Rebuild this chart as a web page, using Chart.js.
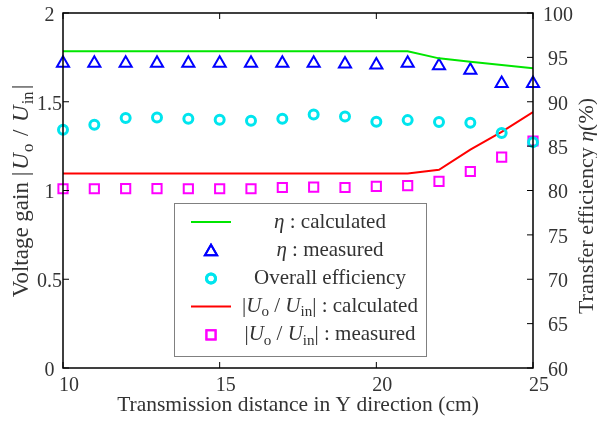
<!DOCTYPE html>
<html>
<head>
<meta charset="utf-8">
<script src="https://cdn.jsdelivr.net/npm/chart.js@4/dist/chart.umd.min.js"></script>
<style>
  html, body { margin: 0; padding: 0; background: #fff; }
  #wrap { width: 597px; height: 422px; position: relative; }
</style>
</head>
<body>
<div id="wrap"><canvas id="chart"></canvas></div>
<script>
// distance in Y direction (cm)
const distance = [10, 11, 12, 13, 14, 15, 16, 17, 18, 19, 20, 21, 22, 23, 24, 25];
// transfer efficiency (%), right axis
const etaCalculated = [95.68, 95.68, 95.68, 95.68, 95.68, 95.68, 95.68, 95.68, 95.68, 95.68, 95.68, 95.68, 94.89, 94.5, 94.14, 93.76];
const etaMeasured = [94.35, 94.35, 94.35, 94.35, 94.35, 94.35, 94.35, 94.35, 94.35, 94.25, 94.15, 94.35, 94.05, 93.55, 92.05, 92.05];
const overallEfficiency = [86.84, 87.4, 88.16, 88.23, 88.08, 87.97, 87.86, 88.08, 88.57, 88.34, 87.74, 87.93, 87.71, 87.63, 86.47, 85.45];
// voltage gain |Uo/Uin|, left axis
const gainCalculated = [1.096, 1.096, 1.096, 1.096, 1.096, 1.096, 1.096, 1.096, 1.096, 1.096, 1.096, 1.096, 1.117, 1.23, 1.33, 1.442];
const gainMeasured = [1.01, 1.01, 1.011, 1.011, 1.01, 1.01, 1.01, 1.017, 1.019, 1.017, 1.023, 1.028, 1.051, 1.107, 1.188, 1.279];

const xTicks = [10, 15, 20, 25];
const leftTicks = [0, 0.5, 1, 1.5, 2];
const rightTicks = [60, 65, 70, 75, 80, 85, 90, 95, 100];

const FONT = 'Liberation Serif';
const TEXT = '#333333';

const pts = (ys) => distance.map((x, i) => ({ x: x, y: ys[i] }));

// small rich-text helper: italic and subscript pieces
const drawRich = (ctx, parts, x, y, size, align) => {
  const fontOf = (p) => (p.it ? 'italic ' : '') + (p.sub ? size * 0.72 : size).toFixed(1) + 'px "' + FONT + '"';
  let total = 0;
  parts.forEach(p => { ctx.font = fontOf(p); total += ctx.measureText(p.t).width + (p.gap || 0); });
  let cx = align === 'center' ? x - total / 2 : x;
  ctx.textBaseline = 'middle';
  ctx.textAlign = 'left';
  parts.forEach(p => {
    ctx.font = fontOf(p);
    ctx.fillText(p.t, cx, p.sub ? y + size * 0.28 : y);
    cx += ctx.measureText(p.t).width + (p.gap || 0);
  });
};

const gainText = (tail, gap) => [
  { t: '|', gap: gap }, { t: 'U', it: true, gap: gap / 2 }, { t: 'o', sub: true, gap: gap }, { t: ' / ', gap: gap },
  { t: 'U', it: true, gap: gap / 2 }, { t: 'in', sub: true, gap: gap }, { t: '|' + tail }
];

const legendRows = [
  { parts: [{ t: 'η', it: true }, { t: ' : calculated' }], line: '#00e600' },
  { parts: [{ t: 'η', it: true }, { t: ' : measured' }], marker: 'triangle', color: '#0000ff', r: 7 },
  { parts: [{ t: 'Overall efficiency' }], marker: 'circle', color: '#00e5ee', r: 4.5 },
  { parts: gainText(' : calculated', 0), line: '#ff0000' },
  { parts: gainText(' : measured', 0), marker: 'rect', color: '#ff00ff', r: 6.5 }
];

const framePlugin = {
  id: 'frame',
  afterDatasetsDraw(chart) {
    const ctx = chart.ctx;
    const a = chart.chartArea;
    const sx = chart.scales.x, sl = chart.scales.yL, sr = chart.scales.yR;
    ctx.save();
    ctx.strokeStyle = '#000';
    ctx.lineWidth = 1.5;
    ctx.strokeRect(a.left, a.top, a.right - a.left, a.bottom - a.top);
    ctx.lineWidth = 1;
    ctx.beginPath();
    const t = 6;
    xTicks.forEach(v => {
      const px = sx.getPixelForValue(v);
      ctx.moveTo(px, a.bottom); ctx.lineTo(px, a.bottom - t);
      ctx.moveTo(px, a.top); ctx.lineTo(px, a.top + t);
    });
    leftTicks.forEach(v => {
      const py = sl.getPixelForValue(v);
      ctx.moveTo(a.left, py); ctx.lineTo(a.left + t, py);
    });
    rightTicks.forEach(v => {
      const py = sr.getPixelForValue(v);
      ctx.moveTo(a.right, py); ctx.lineTo(a.right - t, py);
    });
    ctx.stroke();

    // legend box
    const bx = 174, by = 203, bw = 252, bh = 153;
    ctx.fillStyle = '#fff';
    ctx.fillRect(bx, by, bw, bh);
    ctx.strokeStyle = '#808080';
    ctx.lineWidth = 1;
    ctx.strokeRect(bx + 0.5, by + 0.5, bw, bh);
    legendRows.forEach((row, i) => {
      const y = 222 + i * 28.2;
      if (row.line) {
        ctx.strokeStyle = row.line;
        ctx.lineWidth = 2;
        ctx.beginPath();
        ctx.moveTo(191, y); ctx.lineTo(231, y);
        ctx.stroke();
      } else {
        ctx.strokeStyle = row.color;
        ctx.fillStyle = 'rgba(0,0,0,0)';
        ctx.lineWidth = row.marker === 'circle' ? 3 : 2;
        Chart.helpers.drawPoint(ctx, { pointStyle: row.marker, radius: row.r, rotation: 0, borderWidth: ctx.lineWidth }, 211, row.marker === 'triangle' ? y + 1.5 : y);
        ctx.stroke();
      }
      ctx.fillStyle = TEXT;
      drawRich(ctx, row.parts, 330, y, 21, 'center');
    });

    // axis titles with italic / subscript pieces
    ctx.fillStyle = TEXT;
    ctx.save();
    ctx.translate(22, 191);
    ctx.rotate(-Math.PI / 2);
    drawRich(ctx, [{ t: 'Voltage gain ' }].concat(gainText('', 2)), 0, 0, 23, 'center');
    ctx.restore();
    ctx.save();
    ctx.translate(587, 206);
    ctx.rotate(-Math.PI / 2);
    drawRich(ctx, [{ t: 'Transfer efficiency ' }, { t: 'η', it: true }, { t: '(%)' }], 0, 0, 22, 'center');
    ctx.restore();
    ctx.restore();
  }
};

(() => {
  const ctx = document.getElementById('chart').getContext('2d');
  new Chart(ctx, {
    type: 'scatter',
    data: {
      datasets: [{
        label: 'η : calculated',
        type: 'line',
        data: pts(etaCalculated),
        yAxisID: 'yR',
        borderColor: '#00e600',
        borderWidth: 2,
        pointRadius: 0,
        fill: false,
        tension: 0
      }, {
        label: 'η : measured',
        data: pts(etaMeasured),
        yAxisID: 'yR',
        pointStyle: 'triangle',
        pointRadius: 7,
        pointBorderWidth: 2,
        pointBorderColor: '#0000ff',
        pointBackgroundColor: 'rgba(0,0,0,0)',
        clip: false
      }, {
        label: 'Overall efficiency',
        data: pts(overallEfficiency),
        yAxisID: 'yR',
        pointStyle: 'circle',
        pointRadius: 4.5,
        pointBorderWidth: 3,
        pointBorderColor: '#00e5ee',
        pointBackgroundColor: 'rgba(0,0,0,0)',
        clip: false
      }, {
        label: '|Uo / Uin| : calculated',
        type: 'line',
        data: pts(gainCalculated),
        yAxisID: 'yL',
        borderColor: '#ff0000',
        borderWidth: 2,
        pointRadius: 0,
        fill: false,
        tension: 0
      }, {
        label: '|Uo / Uin| : measured',
        data: pts(gainMeasured),
        yAxisID: 'yL',
        pointStyle: 'rect',
        pointRadius: 6.5,
        pointBorderWidth: 2,
        pointBorderColor: '#ff00ff',
        pointBackgroundColor: 'rgba(0,0,0,0)',
        clip: false
      }]
    },
    options: {
      responsive: true,
      maintainAspectRatio: false,
      animation: false,
      layout: { padding: { top: 13, left: 0, right: 0, bottom: 0 } },
      plugins: { legend: { display: false }, tooltip: { enabled: false } },
      scales: {
        x: {
          type: 'linear',
          min: 10, max: 25,
          afterBuildTicks: (s) => { s.ticks = xTicks.map(v => ({ value: v })); },
          afterFit: (s) => { s.height = 54; s.paddingLeft = 0; s.paddingRight = 0; },
          grid: { display: false, drawTicks: false },
          border: { display: false },
          ticks: { color: TEXT, font: { family: FONT, size: 20 }, padding: 6, labelOffset: 6, maxRotation: 0 },
          title: {
            display: true,
            text: 'Transmission distance in Y direction (cm)',
            color: TEXT,
            font: { family: FONT, size: 21.5 },
            padding: { top: 0, bottom: 4 }
          }
        },
        yL: {
          position: 'left',
          min: 0, max: 2,
          afterBuildTicks: (s) => { s.ticks = leftTicks.map(v => ({ value: v })); },
          afterFit: (s) => { s.width = 63; s.paddingTop = 0; s.paddingBottom = 0; },
          grid: { display: false, drawTicks: false },
          border: { display: false },
          ticks: { color: TEXT, font: { family: FONT, size: 20 }, padding: 1, labelOffset: 2.5, crossAlign: 'center', callback: (v) => String(v) }
        },
        yR: {
          position: 'right',
          min: 60, max: 100,
          afterBuildTicks: (s) => { s.ticks = rightTicks.map(v => ({ value: v })); },
          afterFit: (s) => { s.width = 64; s.paddingTop = 0; s.paddingBottom = 0; },
          grid: { display: false, drawTicks: false },
          border: { display: false },
          ticks: { color: TEXT, font: { family: FONT, size: 20 }, padding: 10, labelOffset: 2.5, crossAlign: 'center', callback: (v) => String(v) }
        }
      }
    },
    plugins: [framePlugin]
  });
})();
</script>
</body>
</html>
